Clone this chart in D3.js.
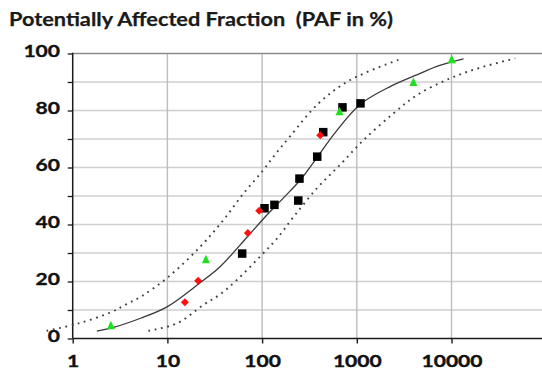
<!DOCTYPE html>
<html><head><meta charset="utf-8">
<script src="https://cdn.jsdelivr.net/npm/d3@7"></script>
<style>body{margin:0;background:#fff}svg{display:block}</style>
</head><body><svg id="c" width="542" height="371"></svg>
<script>
const titleText = "Potentially Affected Fraction  (PAF in %)";
const xTicks = [1, 10, 100, 1000, 10000];
const yTicks = [0, 10, 20, 30, 40, 50, 60, 70, 80, 90, 100];
const yLabels = [0, 20, 40, 60, 80, 100];
const yGrid = [10, 20, 30, 40, 50, 60, 70, 80, 90];
const xGrid = [10, 100, 1000, 10000];

// measured data points [concentration, PAF %]
const squares = [[61.6, 29.8], [106, 45.7], [135, 46.9], [241, 48.4], [248, 56.1], [382, 63.8], [442, 72.4], [706, 81.1], [1094, 82.5]];
const diamonds = [[15.3, 12.7], [21.1, 20.3], [70.8, 37.0], [93.2, 44.8], [411, 71.3]];
const triangles = [[2.53, 4.7], [25.5, 27.9], [657, 79.8], [3960, 90.1], [10040, 98.1]];

// curves
const fitCurve = [[1.8, 2.6], [2.7, 3.9], [5.2, 7.1], [10, 11.2], [22, 19.5], [36, 25.2], [70, 35.7], [110, 43], [170, 49.5], [253, 55.6], [380, 63.5], [600, 72.5], [1090, 82.2], [2250, 88.4], [4670, 93], [7000, 95.5], [13400, 98.1]];
const upperBound = [[0.53, 2.7], [1.1, 5.1], [2.49, 9.1], [3.58, 11.8], [5.38, 14.9], [10.3, 21.7], [22.2, 32.2], [39.1, 41.6], [63.6, 50.9], [99.5, 58.5], [137, 64.5], [198, 71], [394, 82.5], [852, 90.7], [2873, 98]];
const lowerBound = [[6.3, 2.7], [12.6, 5.3], [24, 11.8], [36, 15.5], [54, 20.5], [100, 29.5], [143, 35], [215, 42.7], [379, 52.7], [668, 61], [1177, 69.6], [2443, 79], [4310, 85.4], [9690, 91.3], [20000, 95], [47100, 98.3]];

const svg = d3.select("#c");
const x = d3.scaleLog().domain([1, 1e5]).range([72.7, 72.7 + 5 * 94.7]);
const y = d3.scaleLinear().domain([0, 100]).range([338.5, 53.5]);
const FONT = "Lato, 'Open Sans', sans-serif";
const DIGIT_W = 12.2;

// grid
svg.append("g").selectAll("line").data(yGrid).join("line")
  .attr("x1", x(1)).attr("x2", 542).attr("y1", d => y(d)).attr("y2", d => y(d))
  .attr("stroke", "#cfcfcf").attr("stroke-width", 1.4);
svg.append("g").selectAll("line").data(xGrid).join("line")
  .attr("x1", d => x(d)).attr("x2", d => x(d)).attr("y1", y(100)).attr("y2", y(0))
  .attr("stroke", "#bdbdbd").attr("stroke-width", 1.4);
svg.append("line").attr("x1", x(1)).attr("x2", 542).attr("y1", y(100)).attr("y2", y(100))
  .attr("stroke", "#8c8c8c").attr("stroke-width", 1.4);

// axes
const xAxis = svg.append("g").attr("transform", `translate(0,${y(0)})`)
  .call(d3.axisBottom(x).tickValues(xTicks).tickFormat(d3.format("d")).tickSize(5).tickSizeOuter(0));
xAxis.select(".domain").attr("d", `M${x(1)},0H542`).attr("stroke", "#1a1a1a").attr("stroke-width", 1.6);
xAxis.selectAll(".tick line").attr("stroke", "#1a1a1a").attr("stroke-width", 1.4);
xAxis.selectAll(".tick text").attr("y", 28.3).attr("dy", null)
  .attr("font-family", FONT).attr("font-weight", 700).attr("font-size", 17).attr("fill", "#111")
  .attr("stroke", "#111").attr("stroke-width", 0.35)
  .each(function(d) { const n = String(d).length; d3.select(this).attr("textLength", DIGIT_W * n).attr("lengthAdjust", "spacingAndGlyphs"); });

const yAxis = svg.append("g").attr("transform", `translate(${x(1)},0)`)
  .call(d3.axisLeft(y).tickValues(yTicks).tickFormat(d => yLabels.includes(d) ? d : "").tickSize(5).tickSizeOuter(0));
yAxis.select(".domain").attr("d", `M0,${y(0)}V${y(100) - 0.8}`).attr("stroke", "#1a1a1a").attr("stroke-width", 1.5);
yAxis.selectAll(".tick line").attr("stroke", "#1a1a1a").attr("stroke-width", 1.3);
yAxis.selectAll(".tick text").attr("x", -12.7).attr("dy", null).attr("y", 2.8)
  .attr("font-family", FONT).attr("font-weight", 700).attr("font-size", 17.5).attr("fill", "#111")
  .attr("stroke", "#111").attr("stroke-width", 0.35)
  .each(function(d) { if (!yLabels.includes(d)) return; const n = String(d).length; d3.select(this).attr("textLength", DIGIT_W * n).attr("lengthAdjust", "spacingAndGlyphs"); });

// curves
const line = d3.line().x(d => x(d[0])).y(d => y(d[1])).curve(d3.curveCatmullRom.alpha(0.5));
svg.append("path").datum(upperBound).attr("d", line).attr("fill", "none")
  .attr("stroke", "#404040").attr("stroke-width", 1.9).attr("stroke-dasharray", "1.8,4.6");
svg.append("path").datum(lowerBound).attr("d", line).attr("fill", "none")
  .attr("stroke", "#404040").attr("stroke-width", 1.9).attr("stroke-dasharray", "1.8,4.6");
svg.append("path").datum(fitCurve).attr("d", line).attr("fill", "none")
  .attr("stroke", "#3a3a3a").attr("stroke-width", 1.3);

// markers
const S = 8.5;
svg.append("g").selectAll("rect").data(squares).join("rect")
  .attr("x", d => x(d[0]) - S / 2).attr("y", d => y(d[1]) - S / 2).attr("width", S).attr("height", S)
  .attr("fill", "#000");
const D = 4;
svg.append("g").selectAll("path").data(diamonds).join("path")
  .attr("d", d => { const cx = x(d[0]), cy = y(d[1]); return `M${cx},${cy - D}L${cx + D},${cy}L${cx},${cy + D}L${cx - D},${cy}Z`; })
  .attr("fill", "#ff1010");
const TW = 8, TH = 8.5;
svg.append("g").selectAll("path").data(triangles).join("path")
  .attr("d", d => { const cx = x(d[0]), cy = y(d[1]); return `M${cx},${cy - TH / 2}L${cx + TW / 2},${cy + TH / 2}L${cx - TW / 2},${cy + TH / 2}Z`; })
  .attr("fill", "#1ee01e");

// title
svg.append("text").attr("x", 9).attr("y", 26).text(titleText)
  .style("white-space", "pre")
  .attr("font-family", FONT).attr("font-weight", 700).attr("font-size", 19.5).attr("fill", "#1a1a1a")
  .attr("stroke", "#1a1a1a").attr("stroke-width", 0.25)
  .attr("textLength", 384).attr("lengthAdjust", "spacingAndGlyphs");
</script></body></html>
